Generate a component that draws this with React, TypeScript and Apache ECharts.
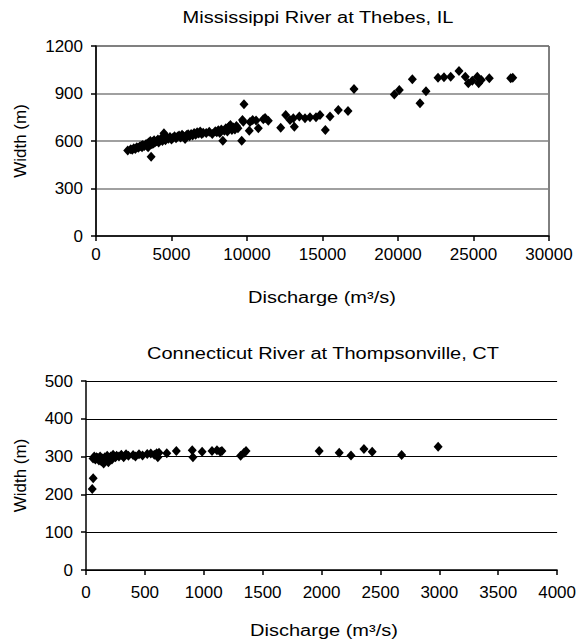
import React, { useEffect, useRef } from "react";
import * as echarts from "echarts";

const topTitle = "Mississippi River at Thebes, IL";
const bottomTitle = "Connecticut River at Thompsonville, CT";
const xName = "Discharge (m³/s)";
const yName = "Width (m)";

// Mississippi River: [discharge m3/s, width m]
const mississippi: number[][] = [
  [2100, 540], [2300, 548], [2400, 545], [2500, 555], [2600, 550], [2700, 560], [2800, 558],
  [2900, 565], [3000, 570], [3050, 560], [3100, 575], [3200, 568], [3300, 580], [3350, 572],
  [3400, 585], [3450, 560], [3500, 590], [3550, 575], [3600, 600], [3650, 501], [3700, 580],
  [3750, 595], [3800, 585], [3850, 605], [3900, 590], [4000, 598], [4100, 610], [4150, 590],
  [4200, 603], [4300, 615], [4400, 600], [4500, 649], [4550, 612], [4600, 605], [4700, 620],
  [4800, 615], [4900, 625], [5000, 610], [5100, 620], [5200, 630], [5300, 618], [5400, 628],
  [5500, 635], [5600, 622], [5700, 640], [5800, 630], [5900, 612], [6000, 638], [6100, 642],
  [6200, 630], [6300, 645], [6400, 635], [6500, 650], [6600, 640], [6700, 655], [6800, 648],
  [6900, 660], [7000, 645], [7100, 652], [7300, 650], [7500, 658], [7700, 645], [7900, 662],
  [8000, 655], [8100, 668], [8200, 650], [8300, 672], [8400, 602], [8500, 665], [8600, 680],
  [8700, 660], [8800, 690], [8900, 701], [9000, 670], [9100, 685], [9200, 672], [9300, 695],
  [9400, 680], [9650, 602], [9700, 733], [9755, 722], [9800, 832], [10150, 665], [10200, 720],
  [10375, 733], [10600, 730], [10750, 680], [11080, 737], [11200, 745], [11411, 728],
  [12232, 684], [12563, 764], [12848, 733], [13068, 743], [13135, 690], [13466, 754],
  [13841, 743], [14172, 750], [14570, 750], [14834, 764], [15187, 670], [15497, 754],
  [16046, 796], [16689, 790], [17086, 928], [19755, 893], [20086, 922], [20950, 990],
  [21457, 838], [21854, 914], [22650, 1000], [23046, 1002], [23490, 1006], [24040, 1042],
  [24457, 1006], [24656, 964], [24921, 981], [25252, 1006], [25344, 964], [25517, 985],
  [26046, 996], [27464, 996], [27600, 1000],
];

// Connecticut River: [discharge m3/s, width m]
const connecticut: number[][] = [
  [53, 214], [61, 243], [60, 295], [70, 300], [80, 292], [90, 298], [100, 296], [110, 290],
  [120, 300], [130, 288], [140, 295], [150, 282], [160, 298], [170, 290], [180, 302],
  [190, 285], [200, 295], [210, 300], [220, 292], [230, 305], [250, 298], [260, 302],
  [280, 300], [300, 305], [320, 298], [340, 306], [360, 302], [400, 304], [420, 300],
  [450, 306], [480, 303], [520, 307], [550, 308], [580, 305], [600, 309], [610, 298],
  [620, 310], [686, 309], [767, 315], [902, 317], [908, 298], [986, 313], [1070, 315],
  [1112, 317], [1140, 313], [1154, 315], [1313, 302], [1342, 310], [1359, 315],
  [1980, 315], [2150, 310], [2250, 303], [2360, 320], [2430, 313], [2680, 304], [2990, 326],
];

const topXTicks = { min: 0, max: 30000, interval: 5000 };
const topYTicks = { min: 0, max: 1200, interval: 300 };
const botXTicks = { min: 0, max: 4000, interval: 500 };
const botYTicks = { min: 0, max: 500, interval: 100 };

const FONT = "'Liberation Sans', Arial, sans-serif";
const LABEL_FS = 17;
const TEXT_FS = 16;
const STRETCH = 1.25;

function axisCommon() {
  return {
    axisLine: { show: true, onZero: false, lineStyle: { color: "#000", width: 1.5 } },
    axisTick: { show: true, inside: false, length: 5, lineStyle: { color: "#000", width: 1.5 } },
    splitLine: { show: false },
    axisLabel: {
      color: "#000",
      fontFamily: FONT,
      fontSize: LABEL_FS,
      formatter: (v: number) => String(v),
    },
    nameTextStyle: { color: "#000", fontFamily: FONT, fontSize: 17 },
  };
}

function stretchedText(text: string, x: number, y: number) {
  return {
    type: "text",
    x,
    y,
    scaleX: STRETCH,
    style: {
      text,
      fill: "#000",
      font: `${TEXT_FS}px ${FONT}`,
      textAlign: "center",
      textVerticalAlign: "middle",
    },
  };
}

export default function App() {
  const ref = useRef<HTMLDivElement>(null);
  useEffect(() => {
    if (!ref.current) return;
    const chart = echarts.init(ref.current, null, { renderer: "svg" });
    const c = axisCommon();
    chart.setOption({
      animation: false,
      backgroundColor: "#fff",
      graphic: [
        stretchedText(topTitle, 318, 18),
        stretchedText(bottomTitle, 323, 354),
        stretchedText(xName, 322, 298),
        stretchedText(xName, 324, 631),
      ],
      grid: [
        { left: 96, top: 46, width: 453, height: 190, show: true, borderColor: "#000", borderWidth: 1, backgroundColor: "transparent" },
        { left: 86, top: 381, width: 476, height: 189 },
      ],
      xAxis: [
        {
          ...c,
          type: "value",
          gridIndex: 0,
          ...topXTicks,
          axisLabel: { ...c.axisLabel, margin: 10 },
        },
        {
          ...c,
          type: "value",
          gridIndex: 1,
          ...botXTicks,
          axisLabel: { ...c.axisLabel, margin: 14 },
        },
      ],
      yAxis: [
        {
          ...c,
          type: "value",
          gridIndex: 0,
          ...topYTicks,
          axisLabel: { ...c.axisLabel, margin: 13 },
          splitLine: { show: true, lineStyle: { color: "#808080", width: 1.5 } },
          name: yName,
          nameLocation: "middle",
          nameGap: 67,
        },
        {
          ...c,
          type: "value",
          gridIndex: 1,
          ...botYTicks,
          axisLabel: { ...c.axisLabel, margin: 13 },
          splitLine: { show: true, lineStyle: { color: "#000", width: 1.2 } },
          name: yName,
          nameLocation: "middle",
          nameGap: 57,
        },
      ],
      series: [
        {
          type: "scatter",
          xAxisIndex: 0,
          yAxisIndex: 0,
          data: mississippi,
          symbol: "diamond",
          symbolSize: [9, 10],
          itemStyle: { color: "#000", opacity: 1 },
        },
        {
          type: "scatter",
          xAxisIndex: 1,
          yAxisIndex: 1,
          data: connecticut,
          symbol: "diamond",
          symbolSize: [9, 10],
          itemStyle: { color: "#000", opacity: 1 },
        },
      ],
    });
    return () => chart.dispose();
  }, []);
  return (
    <div
      ref={ref}
      style={{ position: "absolute", left: 0, top: 0, width: 579, height: 642, background: "#fff" }}
    />
  );
}
